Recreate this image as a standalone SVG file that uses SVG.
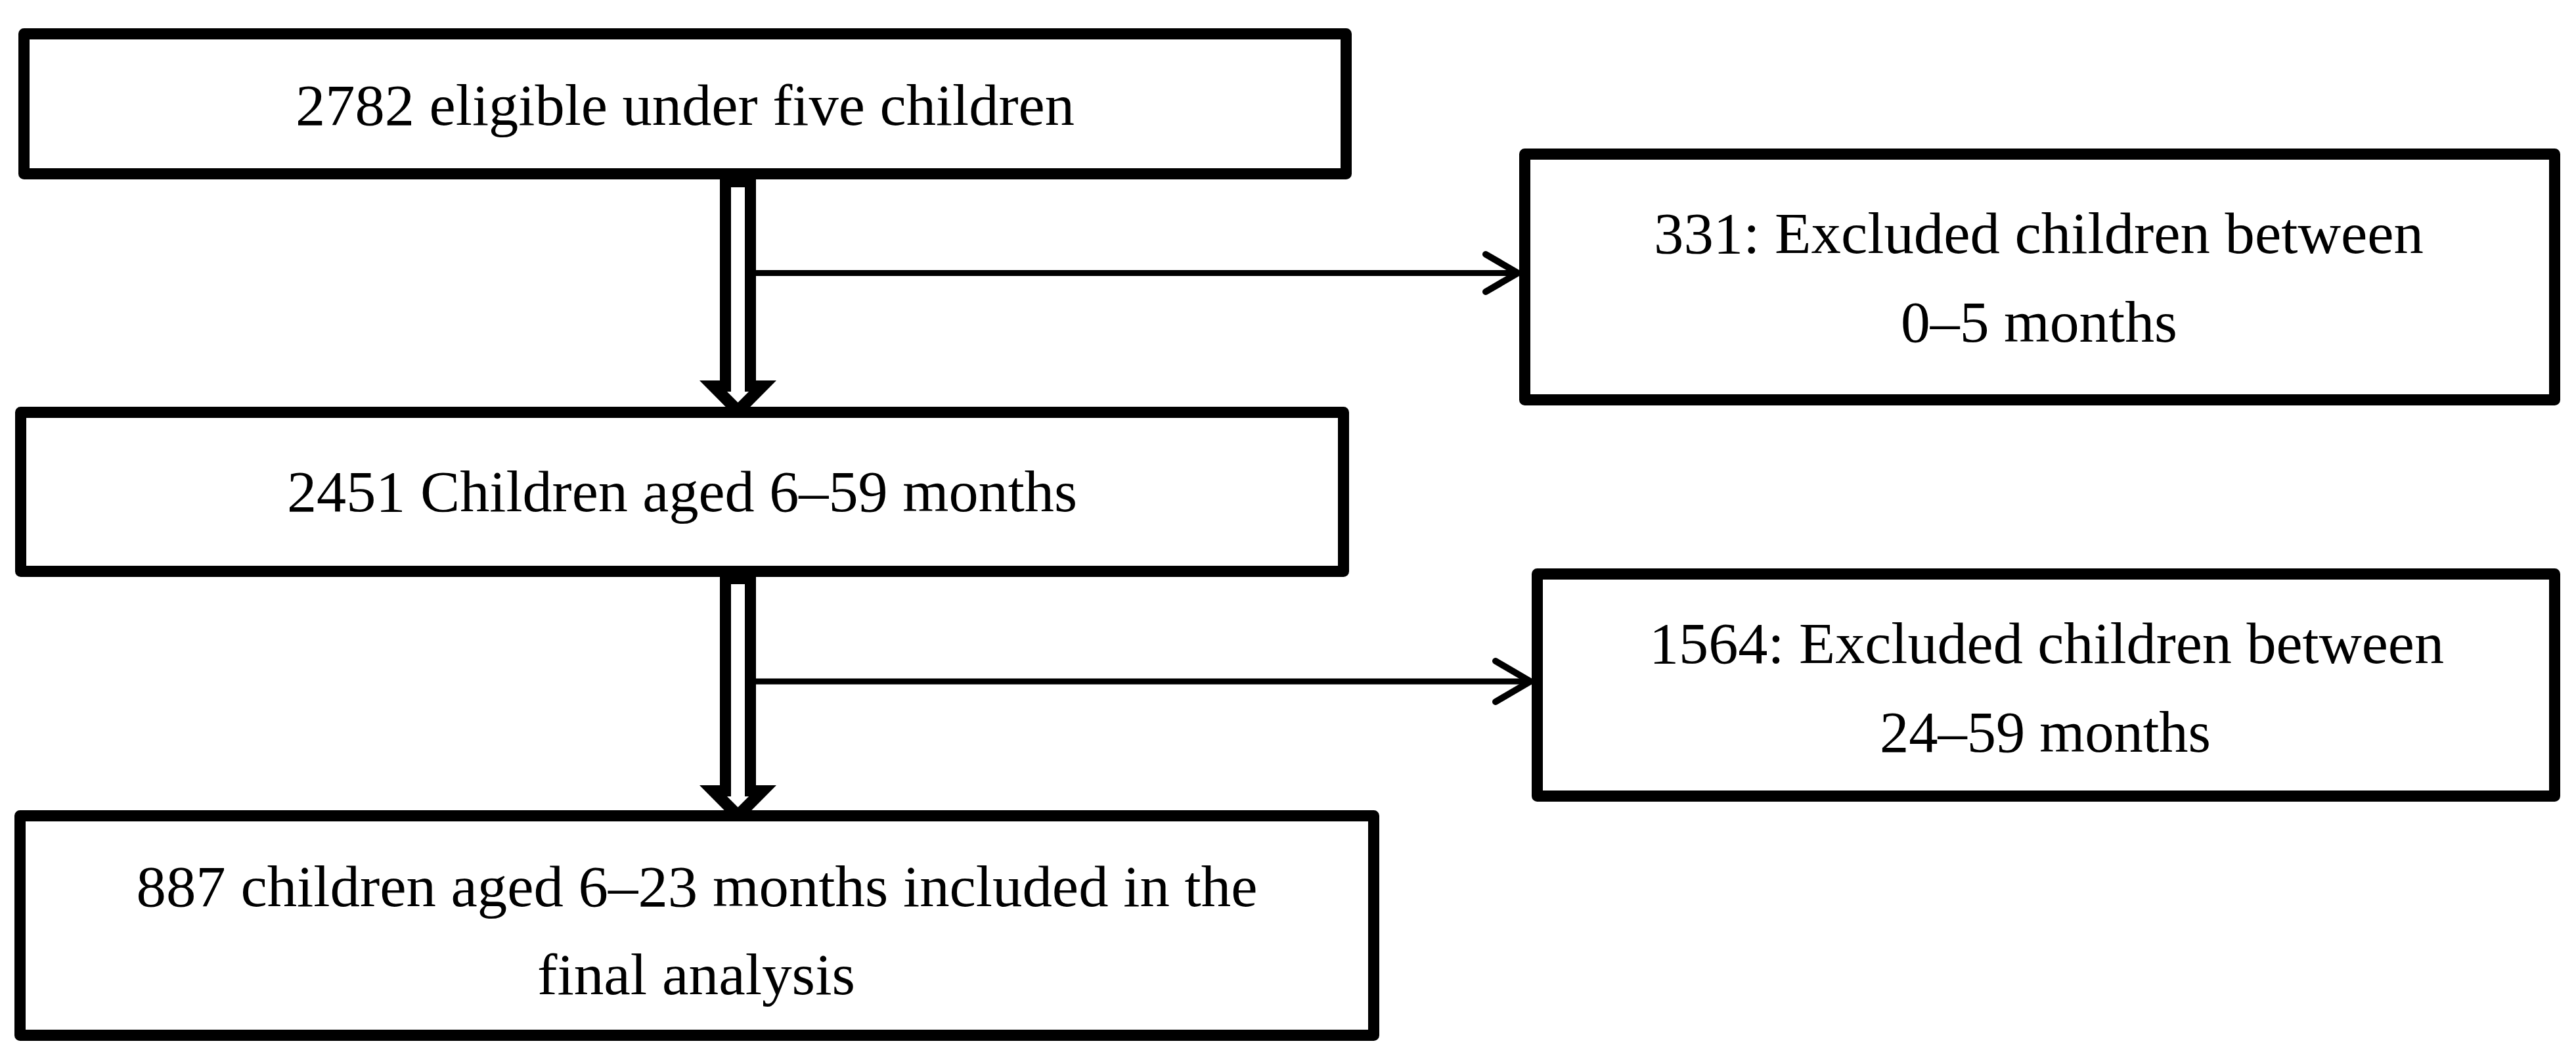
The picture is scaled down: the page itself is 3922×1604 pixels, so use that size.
<svg xmlns="http://www.w3.org/2000/svg" width="3922" height="1604" viewBox="0 0 3922 1604">
  <style>
    .box { fill: #ffffff; stroke: #000000; stroke-width: 17; stroke-linejoin: round; }
    .lbl { font-family: "Liberation Serif", "Times New Roman", serif; font-size: 88px; fill: #000000; text-anchor: middle; }
    .branch { stroke: #000000; stroke-width: 9; fill: none; }
    .chev { stroke: #000000; stroke-width: 10; fill: none; stroke-linecap: round; stroke-linejoin: round; }
  </style>
  <rect width="3922" height="1604" fill="#ffffff"/>
  <g id="connectors">
    <g id="arrow-1-2">
      <polygon points="1096,270 1151,270 1151,579 1182,579 1123.5,638 1065,579 1096,579" fill="#000000"/>
      <polygon points="1113,285 1134,285 1134,596 1140,596 1123.5,612.5 1107,596 1113,596" fill="#ffffff"/>
    </g>
    <g id="arrow-2-3">
      <polygon points="1096,874 1151,874 1151,1195 1182,1195 1123.5,1254 1065,1195 1096,1195" fill="#000000"/>
      <polygon points="1113,889 1134,889 1134,1212 1140,1212 1123.5,1228.5 1107,1212 1113,1212" fill="#ffffff"/>
    </g>
    <g id="branch-331">
      <line class="branch" x1="1150" y1="415.5" x2="2311" y2="415.5"/>
      <polyline class="chev" points="2262,387 2311,415.5 2262,444"/>
    </g>
    <g id="branch-1564">
      <line class="branch" x1="1150" y1="1037" x2="2330" y2="1037"/>
      <polyline class="chev" points="2277,1006 2330,1037 2277,1068"/>
    </g>
  </g>
  <g id="node-2782">
    <rect class="box" x="36.5" y="51.5" width="2013" height="213"/>
    <text class="lbl" x="1043" y="190" textLength="1186" lengthAdjust="spacingAndGlyphs">2782 eligible under five children</text>
  </g>
  <g id="node-2451">
    <rect class="box" x="31.5" y="627.5" width="2014" height="242"/>
    <text class="lbl" x="1038.5" y="778" textLength="1203" lengthAdjust="spacingAndGlyphs">2451 Children aged 6–59 months</text>
  </g>
  <g id="node-887">
    <rect class="box" x="30.5" y="1241.5" width="2061" height="334"/>
    <text class="lbl" x="1061" y="1379" textLength="1707" lengthAdjust="spacingAndGlyphs">887 children aged 6–23 months included in the</text>
    <text class="lbl" x="1060" y="1513" textLength="484" lengthAdjust="spacingAndGlyphs">final analysis</text>
  </g>
  <g id="node-331">
    <rect class="box" x="2321.5" y="234.5" width="1568" height="374"/>
    <text class="lbl" x="3104" y="385" textLength="1172" lengthAdjust="spacingAndGlyphs">331: Excluded children between</text>
    <text class="lbl" x="3104.5" y="520" textLength="421" lengthAdjust="spacingAndGlyphs">0–5 months</text>
  </g>
  <g id="node-1564">
    <rect class="box" x="2340.5" y="873.5" width="1549" height="338"/>
    <text class="lbl" x="3116" y="1009" textLength="1210" lengthAdjust="spacingAndGlyphs">1564: Excluded children between</text>
    <text class="lbl" x="3114" y="1144" textLength="504" lengthAdjust="spacingAndGlyphs">24–59 months</text>
  </g>
</svg>
